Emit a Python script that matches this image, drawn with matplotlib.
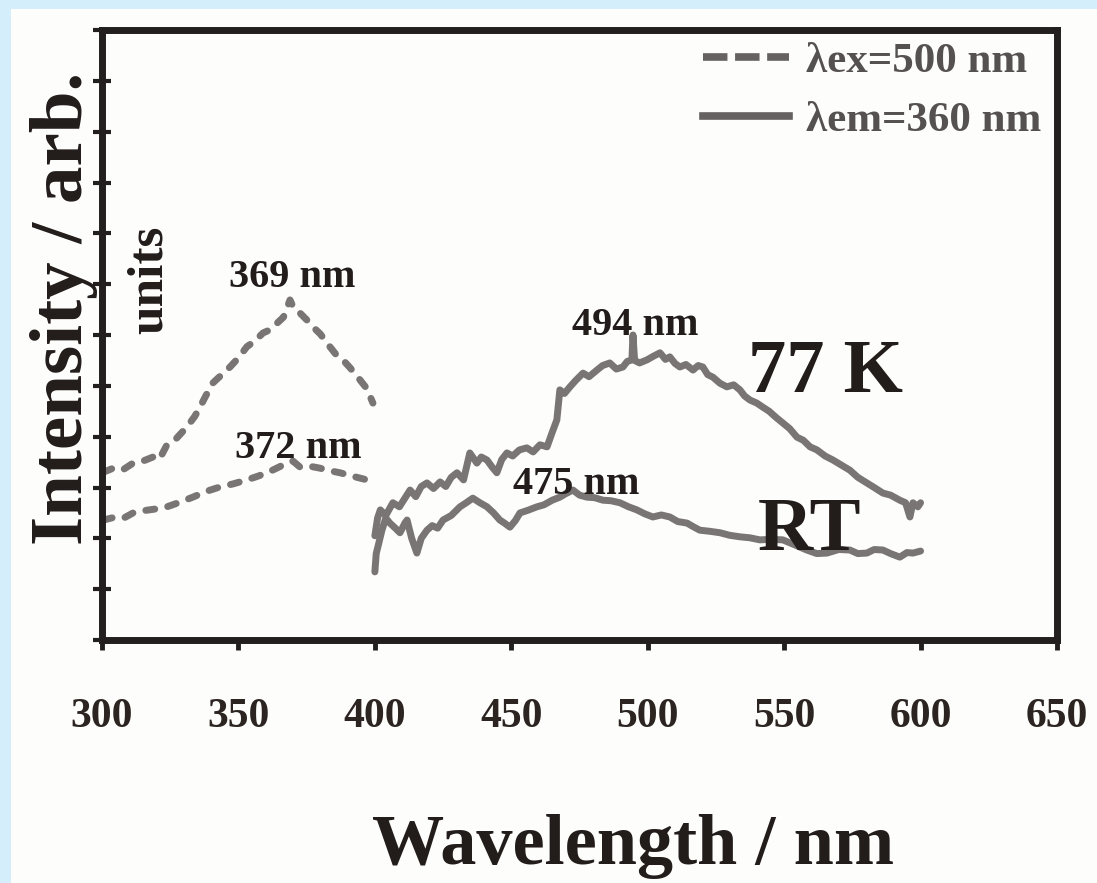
import matplotlib
matplotlib.use('Agg')
import matplotlib.pyplot as plt
from matplotlib.lines import Line2D
from matplotlib.patches import Rectangle

# ---------------- data ----------------
# excitation spectra (dashed), lambda_em = 360 nm
ex77_wl = [300.5, 305, 308, 311.4, 315, 318.7, 321, 323.8, 327, 331.1, 334, 335.9, 338,
           340.7, 343.5, 346.9, 350, 353.1, 356, 359.0, 361.5, 364.1, 366.5, 368.9, 370.5,
           372.6, 375, 377.3, 380, 383.5, 386, 388.3, 391, 394.5, 397, 399.3]
ex77_i = [3.30, 3.40, 3.36, 3.48, 3.52, 3.60, 3.55, 3.84, 3.95, 4.19, 4.40, 4.58, 4.80,
          5.06, 5.20, 5.37, 5.55, 5.77, 5.88, 6.04, 6.10, 6.23, 6.35, 6.69, 6.50,
          6.43, 6.30, 6.16, 6.02, 5.77, 5.60, 5.51, 5.35, 5.12, 4.95, 4.66]

exRT_wl = [300.5, 305, 308, 311.4, 316, 320, 323.8, 328, 333.3, 338, 343.2, 348, 353.1,
           357, 360.5, 364, 367.8, 370, 372.6, 376, 379.9, 383.5, 387.2, 392, 397.1, 399.5]
exRT_i = [2.36, 2.42, 2.40, 2.50, 2.55, 2.58, 2.62, 2.70, 2.81, 2.92, 3.01, 3.07, 3.15,
          3.22, 3.29, 3.38, 3.48, 3.52, 3.40, 3.42, 3.38, 3.33, 3.29, 3.22, 3.15, 3.19]

# emission spectra (solid), lambda_ex = 500 nm
em77_wl = [400.0, 401.0, 402.0, 404.0, 406.6, 409.0, 412.9, 415.0, 417.0, 419.1, 421.5,
           423.9, 426.0, 428.0, 430.1, 432.5, 434.8, 437.4, 439.0, 441.1, 443.0, 444.7,
           446.5, 448.4, 450.5, 453.0, 455.7, 458.0, 460.5, 463.1, 464.9, 466.7, 467.8,
           469.5, 471.5, 473.5, 476.3, 478.5, 481.4, 483.5, 486.1, 488.5, 490.9, 492.5,
           494.2, 494.6, 495.2, 497.0, 499.7, 502.0, 504.5, 506.5, 508.1, 510.0, 511.8,
           514.0, 516.6, 518.5, 520.2, 522.0, 523.9, 526.5, 529.0, 531.5, 533.8, 535.5,
           537.5, 540.0, 542.2, 544.5, 547.0, 549.5, 552.0, 554.7, 557.0, 559.5, 562.0,
           565.0, 567.9, 571.0, 574.1, 577.0, 580.3, 583.0, 586.2, 589.0, 592.4, 594.5,
           596.1, 597.2, 599.0, 600.0]
em77_i = [2.05, 2.40, 2.56, 2.45, 2.70, 2.62, 2.95, 2.82, 3.02, 3.09, 2.98,
          3.11, 3.02, 3.20, 3.29, 3.15, 3.68, 3.48, 3.60, 3.54, 3.40, 3.29,
          3.55, 3.68, 3.62, 3.74, 3.78, 3.70, 3.84, 3.80, 4.07, 4.33, 4.92,
          4.85, 4.98, 5.10, 5.25, 5.18, 5.31, 5.40, 5.45, 5.33, 5.37, 5.48,
          5.51, 6.00, 5.50, 5.45, 5.51, 5.58, 5.65, 5.52, 5.57, 5.44, 5.37,
          5.42, 5.31, 5.40, 5.37, 5.22, 5.17, 5.05, 4.98, 5.02, 4.92, 4.80,
          4.72, 4.66, 4.58, 4.50, 4.38, 4.27, 4.16, 3.99, 3.93, 3.80, 3.74,
          3.62, 3.54, 3.44, 3.34, 3.20, 3.09, 3.00, 2.89, 2.85, 2.75, 2.70,
          2.42, 2.70, 2.62, 2.70]

emRT_wl = [400.0, 400.5, 401.1, 402.6, 404.0, 405.5, 407.5, 409.2, 411.0, 411.8, 413.5,
           415.4, 417.0, 419.1, 421.0, 423.0, 425.0, 428.0, 431.2, 433.5, 435.9, 438.5,
           441.1, 443.5, 445.8, 447.5, 449.5, 451.5, 453.2, 456.0, 459.4, 462.0, 465.0,
           467.8, 470.0, 472.6, 475.0, 477.7, 480.5, 483.6, 486.5, 489.8, 493.0, 496.0,
           499.0, 501.9, 505.0, 508.1, 511.0, 514.4, 517.0, 519.1, 522.5, 526.5, 530.0,
           533.8, 537.5, 541.1, 545.0, 549.5, 553.5, 558.3, 562.0, 565.7, 570.0, 574.1,
           577.0, 580.3, 583.0, 586.2, 589.0, 592.4, 595.0, 597.2, 600.0]
emRT_i = [1.34, 1.70, 1.83, 2.16, 2.40, 2.30, 2.20, 2.11, 2.30, 2.36, 2.00,
          1.71, 2.00, 2.16, 2.25, 2.20, 2.36, 2.45, 2.62, 2.70, 2.79, 2.70,
          2.62, 2.50, 2.36, 2.30, 2.22, 2.35, 2.50, 2.55, 2.62, 2.66, 2.75,
          2.81, 2.88, 2.95, 2.85, 2.81, 2.80, 2.75, 2.74, 2.70, 2.62, 2.56,
          2.48, 2.42, 2.46, 2.42, 2.33, 2.30, 2.22, 2.16, 2.14, 2.11, 2.06,
          2.03, 2.01, 1.97, 1.98, 1.97, 1.88, 1.77, 1.70, 1.71, 1.78, 1.77,
          1.70, 1.71, 1.78, 1.77, 1.70, 1.63, 1.72, 1.71, 1.75]

xticks = [300, 350, 400, 450, 500, 550, 600, 650]
xtick_labels = ['300', '350', '400', '450', '500', '550', '600', '650']
yticks = list(range(0, 13))

legend_labels = ['\u03bbex=500 nm', '\u03bbem=360 nm']
peak_labels = ['369 nm', '372 nm', '494 nm', '475 nm']
peak_pos = [(369.6, 6.95), (371.8, 3.58), (495.3, 6.00), (473.8, 2.88)]
temp_labels = ['77 K', 'RT']
temp_pos = [(565.0, 4.87), (559.4, 1.78)]

# ---------------- styling ----------------
plt.rcParams['font.family'] = ['Liberation Serif', 'DejaVu Serif']
plt.rcParams['font.weight'] = 'bold'

W, H = 1097, 883
fig = plt.figure(figsize=(W / 100, H / 100), dpi=100)
fig.patch.set_facecolor('#fdfdfb')
blue = '#d5eefc'
fig.patches.append(Rectangle((0, 0), 11 / W, 1, transform=fig.transFigure,
                             facecolor=blue, edgecolor='none', zorder=0))
fig.patches.append(Rectangle((0, 1 - 9 / H), 1, 9 / H, transform=fig.transFigure,
                             facecolor=blue, edgecolor='none', zorder=0))

ax = fig.add_axes([102 / W, 1 - 640 / H, (1057 - 102) / W, (640 - 30) / H])
ax.set_facecolor('#fdfdfb')

curve_col = '#7a7575'
ax.plot(ex77_wl, ex77_i, color=curve_col, lw=5, ls=(0, (1.3, 1.9)),
        dash_capstyle='round', solid_joinstyle='round')
ax.plot(exRT_wl, exRT_i, color=curve_col, lw=5, ls=(0, (1.3, 1.9)),
        dash_capstyle='round', solid_joinstyle='round')
ax.plot(em77_wl, em77_i, color=curve_col, lw=5, solid_joinstyle='round',
        solid_capstyle='round')
ax.plot(emRT_wl, emRT_i, color=curve_col, lw=5, solid_joinstyle='round',
        solid_capstyle='round')

ax.set_xlim(300, 650)
ax.set_ylim(0, 12)

spine_col = '#231f1e'
for s in ax.spines.values():
    s.set_linewidth(5)
    s.set_color(spine_col)

ax.set_xticks(xticks)
ax.set_xticklabels(xtick_labels, fontsize=30, fontweight='bold', color='#2b2421')
ax.tick_params(axis='x', direction='out', length=7, width=3.5, pad=35,
               color=spine_col)
ax.set_yticks(yticks)
ax.set_yticklabels([])
ax.tick_params(axis='y', direction='inout', length=13, width=3, color=spine_col)

# legend
handles = [Line2D([], [], color='#666262', lw=5.5, ls=(0, (3.2, 1.0))),
           Line2D([], [], color='#666262', lw=5.5)]
leg = ax.legend(handles, legend_labels, loc='upper left',
                bbox_to_anchor=(703 / W, 1 - 42 / H), bbox_transform=fig.transFigure,
                frameon=False, fontsize=31, handlelength=2.0, handletextpad=0.4,
                labelspacing=0.45, borderpad=0, borderaxespad=0)
for t in leg.get_texts():
    t.set_color('#555151')
    t.set_fontweight('bold')

# peak annotations
for lab, (x, y) in zip(peak_labels, peak_pos):
    ax.text(x, y, lab, fontsize=29, fontweight='bold', color='#221c1a',
            ha='center', va='baseline')
for lab, (x, y) in zip(temp_labels, temp_pos):
    ax.text(x, y, lab, fontsize=55, fontweight='bold', color='#221c1a',
            ha='center', va='baseline')

# axis labels
fig.text(633 / W, 19 / H, 'Wavelength / nm', fontsize=52, fontweight='bold',
         color='#221c1a', ha='center', va='baseline')
fig.text(64 / W, 1 - 308 / H, 'Intensity / arb.', fontsize=54, fontweight='bold',
         color='#221c1a', ha='center', va='center', rotation=90)
fig.text(150 / W, 1 - 280 / H, 'units', fontsize=37, fontweight='bold',
         color='#221c1a', ha='center', va='center', rotation=90)

fig.savefig('out.png', dpi=100, facecolor=fig.get_facecolor())
